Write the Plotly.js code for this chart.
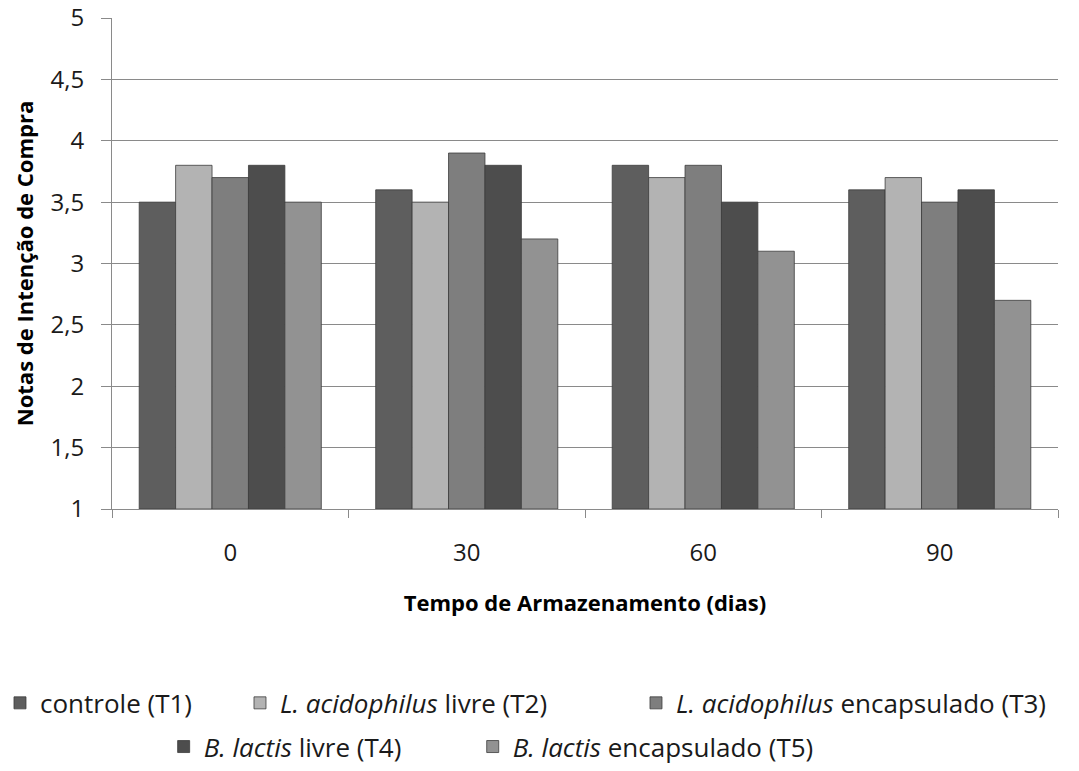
<!DOCTYPE html>
<html>
<head>
<meta charset="utf-8">
<script src="https://cdn.plot.ly/plotly-3.0.1.min.js"></script>
<style>html,body{margin:0;padding:0;background:#fff;}#chart{width:1079px;height:771px;}</style>
</head>
<body>
<div id="chart"></div>
<script>
const categories = ["0", "30", "60", "90"];
const seriesNames = [
  "controle (T1)",
  "<i>L. acidophilus</i> livre (T2)",
  "<i>L. acidophilus</i> encapsulado (T3)",
  "<i>B. lactis</i> livre (T4)",
  "<i>B. lactis</i> encapsulado (T5)"
];
const T1 = [3.5, 3.6, 3.8, 3.6];
const T2 = [3.8, 3.5, 3.7, 3.7];
const T3 = [3.7, 3.9, 3.8, 3.5];
const T4 = [3.8, 3.8, 3.5, 3.6];
const T5 = [3.5, 3.2, 3.1, 2.7];
const seriesValues = [T1, T2, T3, T4, T5];
const colors = ["#5e5e5e", "#b3b3b3", "#7e7e7e", "#4d4d4d", "#929292"];
const legendIds = ["legend", "legend2", "legend3", "legend4", "legend5"];

const traces = seriesValues.map((vals, i) => ({
  type: "bar",
  name: seriesNames[i],
  x: categories,
  y: vals.map(v => v - 1),
  base: 1,
  legend: legendIds[i],
  marker: { color: colors[i], line: { color: "#3c3c3c", width: 0.8 } },
  hoverinfo: "skip"
}));

const legendFont = { family: "Open Sans, sans-serif", size: 26, color: "#1a1a1a" };
const tickFont = { family: "Open Sans, sans-serif", size: 24, color: "#1a1a1a" };
const titleFont = { family: "Open Sans, sans-serif", size: 22, color: "#000" };

function mkLegend(x, y) {
  return {
    orientation: "h",
    x: x, xanchor: "left",
    y: y, yanchor: "middle",
    font: legendFont,
    bgcolor: "rgba(0,0,0,0)",
    itemclick: false
  };
}

const layout = {
  width: 1079, height: 771,
  margin: { l: 112, r: 21, t: 18, b: 262, autoexpand: false },
  paper_bgcolor: "#ffffff",
  plot_bgcolor: "#ffffff",
  separators: ", ",
  barmode: "group",
  bargap: 0.23,
  bargroupgap: 0,
  showlegend: true,
  xaxis: {
    type: "category",
    automargin: false,
    tickson: "boundaries",
    ticks: "outside",
    ticklen: 8,
    tickcolor: "#8a8a8a",
    showline: true,
    linecolor: "#8a8a8a",
    linewidth: 1,
    showgrid: false,
    tickfont: tickFont,
    ticklabelstandoff: 22,
    title: { text: "<b>Tempo de Armazenamento (dias)</b>", font: titleFont, standoff: 28 }
  },
  yaxis: {
    range: [1, 5],
    automargin: false,
    dtick: 0.5,
    tick0: 1,
    ticks: "outside",
    ticklen: 10,
    tickcolor: "#8a8a8a",
    showline: true,
    linecolor: "#8a8a8a",
    linewidth: 1,
    showgrid: true,
    gridcolor: "#8a8a8a",
    gridwidth: 1,
    zeroline: false,
    tickfont: tickFont,
    ticklabelstandoff: 12,
    title: { text: "<b>Notas de Intenção de Compra</b>", font: titleFont, standoff: 10 }
  },
  legend: mkLegend(-0.1184, -0.395),
  legend2: mkLegend(0.1353, -0.395),
  legend3: mkLegend(0.5539, -0.395),
  legend4: mkLegend(0.0546, -0.484),
  legend5: mkLegend(0.3813, -0.484)
};

Plotly.newPlot("chart", traces, layout, { displayModeBar: false, staticPlot: true });
</script>
</body>
</html>
